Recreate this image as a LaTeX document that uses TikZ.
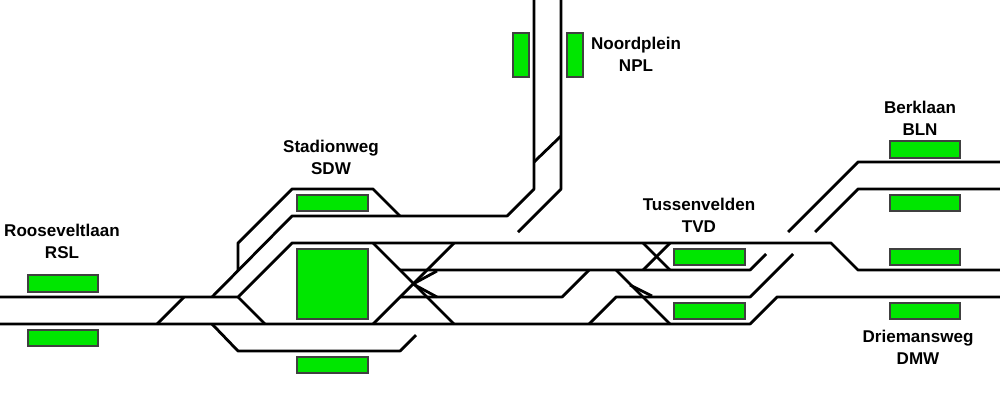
\documentclass[tikz,border=0pt]{standalone}
\usepackage{fontspec}
\setmainfont{Liberation Sans}

\tikzset{
  track/.style={line width=1.6pt, line join=round},
  platform/.style={draw=black!75, line width=0.8pt, fill=platgreen},
  stationlabel/.style={align=center, inner sep=0pt, font=\fontsize{9.7}{12.5}\selectfont\bfseries},
}
\definecolor{platgreen}{RGB}{0,230,0}

\begin{document}
\begin{tikzpicture}[x=0.02cm, y=-0.02cm]
      \useasboundingbox (0,0) rectangle (1000,400);
      % Main lines
      \draw[track] (0,297) -- (238,297) -- (292,243) -- (831,243)
      -- (858,270) -- (1000,270);
      \draw[track] (0,324) -- (750,324) -- (777,297) -- (1000,297);
      % Noordplein branch
      \draw[track] (212,297) -- (292,216) -- (507,216) -- (534,189) -- (534,0);
      \draw[track] (518,232) -- (561,189) -- (561,0);
      \draw[track] (534,162) -- (561,136);
      % Stadionweg loops
      \draw[track] (238,270) -- (238,243) -- (292,189) -- (373,189) -- (400,216);
      \draw[track] (238,297) -- (265,324);
      \draw[track] (212,324) -- (238,351) -- (400,351) -- (416,335);
      \draw[track] (157,324) -- (184,297);
      % Crossings behind Stadionweg
      \draw[track] (373,243) -- (454,324);
      \draw[track] (373,324) -- (454,243);
      \draw[track] (400,270) -- (750,270) -- (766,254);
      \draw[track] (400,297) -- (562,297) -- (589,270);
      \draw[track] (437,271) -- (413,284) -- (437,297);
      % Tussenvelden
      \draw[track] (643,243) -- (670,270);
      \draw[track] (643,270) -- (670,243);
      \draw[track] (616,270) -- (670,324);
      \draw[track] (589,324) -- (616,297) -- (750,297) -- (793,254);
      \draw[track] (630,285) -- (652,296);
      % Berklaan
      \draw[track] (788,232) -- (858,162) -- (1000,162);
      \draw[track] (815,232) -- (858,189) -- (1000,189);
      % Platforms
      \draw[platform] (28,275) rectangle (98,292);
      \draw[platform] (28,330) rectangle (98,346);
      \draw[platform] (297,195) rectangle (368,211);
      \draw[platform] (297,249) rectangle (368,319);
      \draw[platform] (297,357) rectangle (368,373);
      \draw[platform] (513,33) rectangle (529,77);
      \draw[platform] (567,33) rectangle (583,77);
      \draw[platform] (674,249) rectangle (745,265);
      \draw[platform] (674,303) rectangle (745,319);
      \draw[platform] (890,141) rectangle (960,158);
      \draw[platform] (890,195) rectangle (960,211);
      \draw[platform] (890,249) rectangle (960,265);
      \draw[platform] (890,303) rectangle (960,319);
      % Labels
      \node[stationlabel] (rsl) at (62,241) {Rooseveltlaan\\RSL};
      \node[stationlabel] (sdw) at (331,157) {Stadionweg\\SDW};
      \node[stationlabel] (npl) at (636,54) {Noordplein\\NPL};
      \node[stationlabel] (tvd) at (699,215) {Tussenvelden\\TVD};
      \node[stationlabel] (bln) at (920,118) {Berklaan\\BLN};
      \node[stationlabel] (dmw) at (918,347) {Driemansweg\\DMW};
    \end{tikzpicture}
\end{document}
